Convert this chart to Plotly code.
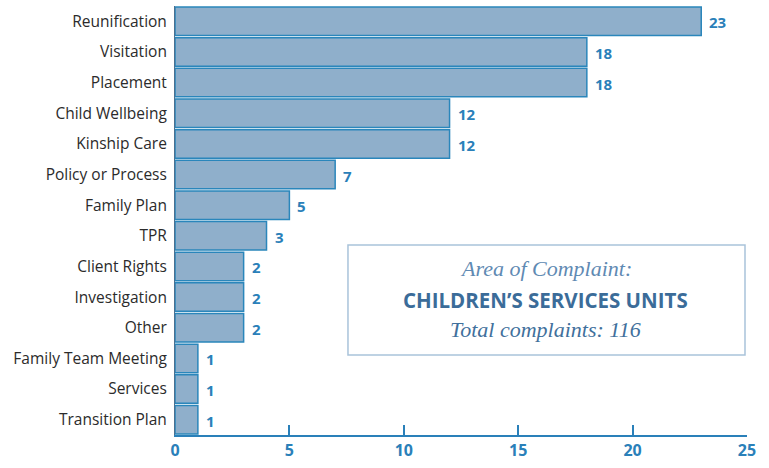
import plotly.graph_objects as go

categories = ["Reunification", "Visitation", "Placement", "Child Wellbeing", "Kinship Care",
              "Policy or Process", "Family Plan", "TPR", "Client Rights", "Investigation",
              "Other", "Family Team Meeting", "Services", "Transition Plan"]
bar_values = [23, 18, 18, 12, 12, 7, 5, 4, 3, 3, 3, 1, 1, 1]
value_labels = ["23", "18", "18", "12", "12", "7", "5", "3", "2", "2", "2", "1", "1", "1"]
tick_vals = [0, 5, 10, 15, 20, 25]

blue = "#2a80b9"
label_font = "'Open Sans', Lato, sans-serif"

fig = go.Figure()
fig.add_trace(go.Bar(
    x=bar_values, y=categories, orientation="h",
    marker=dict(color="#8fafcb", line=dict(color="#2a86bb", width=1.5)),
    hoverinfo="skip",
))

for c, v, t in zip(categories, bar_values, value_labels):
    fig.add_annotation(x=v, y=c, text=f"<b>{t}</b>", showarrow=False,
                       xanchor="left", xshift=6, yshift=-1,
                       font=dict(family=label_font, size=15, color=blue))

fig.add_shape(type="rect", xref="paper", yref="paper",
              x0=0.3024, x1=0.9965, y0=0.1865, y1=0.443,
              line=dict(color="#a9c3da", width=1.5), fillcolor="white")

serif = "'Liberation Serif', 'DejaVu Serif', serif"
fig.add_annotation(xref="paper", yref="paper", x=0.6486, y=0.387, showarrow=False,
                   text="<i>Area of Complaint:</i>", yanchor="middle",
                   font=dict(family=serif, size=22, color="#5f8ab3"))
fig.add_annotation(xref="paper", yref="paper", x=0.6486, y=0.315, showarrow=False,
                   text="<b>CHILDREN’S SERVICES UNITS</b>", yanchor="middle",
                   font=dict(family=label_font, size=20.5, color="#3b6c99"))
fig.add_annotation(xref="paper", yref="paper", x=0.6486, y=0.245, showarrow=False,
                   text="<i>Total complaints: 116</i>", yanchor="middle",
                   font=dict(family=serif, size=22, color="#41709c"))

fig.update_layout(
    width=769, height=468,
    margin=dict(l=175, r=22, t=6, b=33),
    paper_bgcolor="white", plot_bgcolor="white",
    bargap=0.07, showlegend=False,
    xaxis=dict(range=[0, 25], tickvals=tick_vals, ticks="inside", ticklen=10,
               tickwidth=1.5, tickcolor=blue, showline=True, linecolor=blue,
               linewidth=2, showgrid=False, zeroline=False,
               tickfont=dict(family=label_font, size=16, color=blue, weight="bold")),
    yaxis=dict(autorange="reversed", showline=True, linecolor="#4a6f8f",
               linewidth=1, showgrid=False, ticks="", ticklabelstandoff=4,
               tickfont=dict(family=label_font, size=15.5, color="#2b2b2b")),
)

fig.write_html("out.html", config={"displayModeBar": False},
               post_script="document.body.style.margin='0';")
